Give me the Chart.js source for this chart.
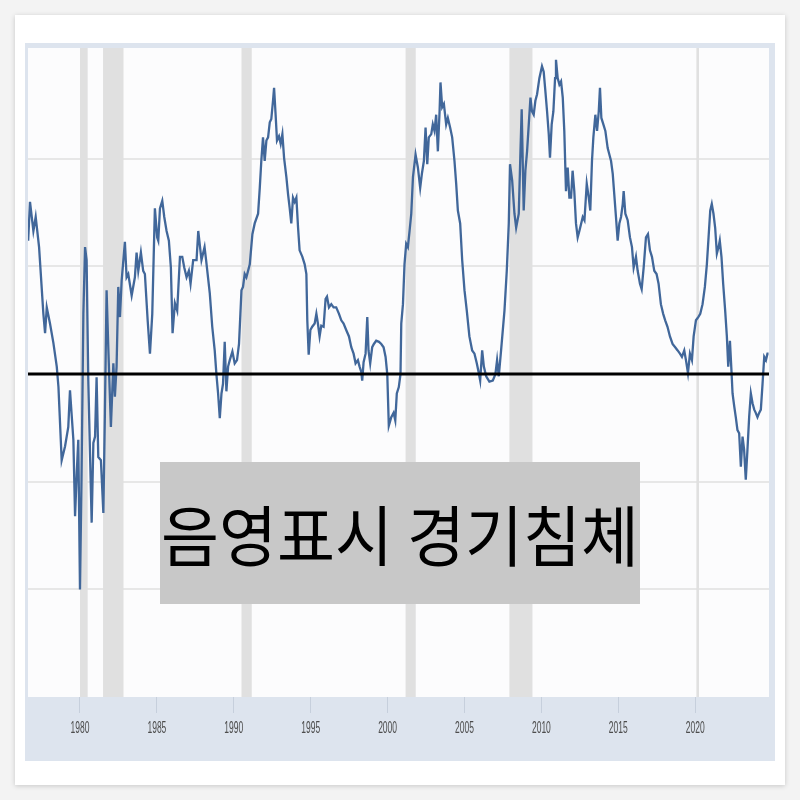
<!DOCTYPE html>
<html>
<head>
<meta charset="utf-8">
<script src="https://cdn.jsdelivr.net/npm/chart.js@4.4.1/dist/chart.umd.min.js"></script>
<style>
html, body { margin: 0; padding: 0; background: #f3f3f3; width: 800px; height: 800px; overflow: hidden; }
#card { position: absolute; left: 15px; top: 15px; width: 770px; height: 770px; background: #fff; box-shadow: 0 1px 5px rgba(0,0,0,0.18); }
#frame { position: absolute; left: 25px; top: 43px; width: 750px; height: 718px; background: #dde4ee; }
#plotbg { position: absolute; left: 28px; top: 48px; width: 741px; height: 649px; background: #fcfcfd; }
#wrap { position: absolute; left: 0; top: 0; width: 800px; height: 800px; }
#note { position: absolute; left: 160px; top: 462px; width: 480px; height: 142px; background: #c8c8c8;
        font-family: "Noto Sans CJK KR", sans-serif; font-size: 63px; line-height: 142px;
        text-align: center; color: #000; white-space: nowrap; }
#note span { display: inline-block; transform: scaleY(1.05); }
</style>
</head>
<body>
<div id="card"></div>
<div id="frame"></div>
<div id="plotbg"></div>
<div id="wrap"><canvas id="spreadChart" width="800" height="800"></canvas></div>
<div id="note"><span>음영표시 경기침체</span></div>
<script>
// 10y - 2y spread (decimal year, percent)
const dates = [
  1976.63, 1976.75, 1976.97, 1977.12, 1977.34, 1977.62, 1977.73, 1977.84, 1978.05, 1978.27,
  1978.49, 1978.60, 1978.81, 1979.03, 1979.24, 1979.35, 1979.57, 1979.68, 1979.79, 1979.89,
  1980.00, 1980.10, 1980.22, 1980.33, 1980.43, 1980.54, 1980.76, 1980.87, 1980.98, 1981.08,
  1981.19, 1981.36, 1981.52, 1981.62, 1981.73, 1981.84, 1982.01, 1982.17, 1982.27, 1982.38,
  1982.49, 1982.60, 1982.71, 1982.92, 1983.03, 1983.14, 1983.36, 1983.57, 1983.68, 1983.79,
  1983.96, 1984.11, 1984.22, 1984.40, 1984.55, 1984.70, 1984.87, 1985.02, 1985.09, 1985.20,
  1985.35, 1985.48, 1985.63, 1985.78, 1985.91, 1986.02, 1986.17, 1986.32, 1986.50, 1986.65,
  1986.78, 1986.93, 1987.08, 1987.19, 1987.36, 1987.58, 1987.69, 1987.90, 1988.10, 1988.20,
  1988.44, 1988.60, 1988.76, 1988.87, 1988.98, 1989.09, 1989.20, 1989.30, 1989.41, 1989.52,
  1989.63, 1989.74, 1989.91, 1990.06, 1990.21, 1990.34, 1990.50, 1990.60, 1990.71, 1990.82,
  1991.04, 1991.21, 1991.36, 1991.58, 1991.69, 1991.79, 1991.90, 1992.01, 1992.12, 1992.23,
  1992.34, 1992.44, 1992.55, 1992.62, 1992.72, 1992.81, 1992.94, 1993.05, 1993.16, 1993.27,
  1993.42, 1993.53, 1993.63, 1993.74, 1993.85, 1993.96, 1994.07, 1994.18, 1994.28, 1994.46,
  1994.61, 1994.72, 1994.78, 1994.87, 1994.98, 1995.10, 1995.26, 1995.37, 1995.47, 1995.58,
  1995.69, 1995.84, 1995.97, 1996.06, 1996.19, 1996.34, 1996.49, 1996.66, 1996.84, 1996.99,
  1997.14, 1997.31, 1997.49, 1997.64, 1997.79, 1997.92, 1998.07, 1998.18, 1998.29, 1998.35,
  1998.44, 1998.57, 1998.68, 1998.76, 1998.87, 1999.00, 1999.11, 1999.26, 1999.44, 1999.59,
  1999.74, 1999.87, 1999.98, 2000.08, 2000.24, 2000.39, 2000.50, 2000.60, 2000.73, 2000.84,
  2000.89, 2001.00, 2001.10, 2001.21, 2001.32, 2001.43, 2001.54, 2001.65, 2001.82, 2001.97,
  2002.12, 2002.23, 2002.36, 2002.47, 2002.58, 2002.68, 2002.84, 2002.94, 2003.05, 2003.16,
  2003.27, 2003.38, 2003.44, 2003.55, 2003.66, 2003.81, 2003.92, 2004.07, 2004.20, 2004.35,
  2004.46, 2004.57, 2004.72, 2004.85, 2005.00, 2005.15, 2005.32, 2005.50, 2005.65, 2005.80,
  2005.93, 2006.02, 2006.15, 2006.26, 2006.41, 2006.62, 2006.84, 2007.01, 2007.12, 2007.23,
  2007.38, 2007.60, 2007.75, 2007.88, 2007.96, 2008.10, 2008.25, 2008.36, 2008.53, 2008.64,
  2008.72, 2008.85, 2008.96, 2009.07, 2009.18, 2009.29, 2009.39, 2009.50, 2009.61, 2009.72,
  2009.87, 2010.04, 2010.15, 2010.26, 2010.37, 2010.48, 2010.56, 2010.67, 2010.78, 2010.89,
  2010.95, 2011.06, 2011.17, 2011.28, 2011.39, 2011.49, 2011.60, 2011.71, 2011.82, 2011.93,
  2012.03, 2012.14, 2012.25, 2012.36, 2012.47, 2012.69, 2012.80, 2012.95, 2013.08, 2013.18,
  2013.29, 2013.38, 2013.51, 2013.62, 2013.73, 2013.81, 2013.90, 2014.03, 2014.16, 2014.31,
  2014.42, 2014.53, 2014.64, 2014.74, 2014.85, 2014.96, 2015.07, 2015.18, 2015.29, 2015.35,
  2015.46, 2015.61, 2015.76, 2015.89, 2016.00, 2016.15, 2016.26, 2016.41, 2016.52, 2016.65,
  2016.80, 2016.93, 2017.06, 2017.19, 2017.34, 2017.49, 2017.62, 2017.77, 2017.92, 2018.05,
  2018.20, 2018.36, 2018.53, 2018.70, 2018.86, 2019.01, 2019.14, 2019.29, 2019.40, 2019.53,
  2019.66, 2019.79, 2019.90, 2020.05, 2020.20, 2020.33, 2020.48, 2020.63, 2020.76, 2020.87,
  2020.98, 2021.08, 2021.19, 2021.30, 2021.41, 2021.52, 2021.60, 2021.71, 2021.82, 2021.95,
  2022.06, 2022.15, 2022.26, 2022.36, 2022.43, 2022.54, 2022.64, 2022.75, 2022.86, 2022.97,
  2023.08, 2023.18, 2023.29, 2023.40, 2023.51, 2023.62, 2023.73, 2023.84, 2023.94, 2024.05,
  2024.16, 2024.27, 2024.38, 2024.49, 2024.60, 2024.70, 2024.77
];
const spread = [
  1.24, 1.60, 1.33, 1.46, 1.18, 0.56, 0.38, 0.62, 0.47, 0.29,
  0.07, -0.12, -0.80, -0.67, -0.49, -0.15, -0.61, -1.32, -0.92, -0.61,
  -2.00, -0.98, 0.56, 1.18, 1.06, -0.06, -1.38, -0.64, -0.58, -0.03,
  -0.77, -0.80, -1.29, -0.36, 0.78, 0.25, -0.49, 0.10, -0.21, 0.07,
  0.81, 0.53, 0.87, 1.23, 0.90, 0.93, 0.73, 0.90, 1.13, 0.96,
  1.13, 0.96, 0.93, 0.50, 0.19, 0.56, 1.54, 1.27, 1.24, 1.54,
  1.61, 1.46, 1.33, 1.24, 0.99, 0.38, 0.66, 0.59, 1.09, 1.09,
  0.99, 0.90, 0.96, 0.84, 1.06, 1.06, 1.33, 1.06, 1.18, 1.06,
  0.75, 0.44, 0.22, 0.00, -0.18, -0.41, -0.18, -0.09, 0.30, -0.16,
  0.07, 0.13, 0.21, 0.10, 0.13, 0.28, 0.78, 0.81, 0.93, 0.90,
  1.02, 1.30, 1.40, 1.49, 1.73, 1.98, 2.20, 1.98, 2.17, 2.20,
  2.34, 2.37, 2.54, 2.66, 2.41, 2.17, 2.21, 2.14, 2.23, 2.01,
  1.83, 1.67, 1.55, 1.40, 1.64, 1.60, 1.64, 1.36, 1.15, 1.09,
  1.02, 0.93, 0.50, 0.18, 0.41, 0.44, 0.47, 0.56, 0.47, 0.35,
  0.45, 0.44, 0.70, 0.72, 0.62, 0.65, 0.62, 0.62, 0.56, 0.50,
  0.47, 0.41, 0.35, 0.25, 0.19, 0.10, 0.13, 0.07, 0.02, -0.06,
  0.11, 0.19, 0.53, 0.22, 0.10, 0.25, 0.28, 0.31, 0.30, 0.28,
  0.25, 0.16, 0.00, -0.48, -0.40, -0.36, -0.43, -0.18, -0.12, 0.00,
  0.47, 0.65, 1.02, 1.21, 1.18, 1.33, 1.49, 1.83, 2.04, 1.92,
  1.73, 1.86, 1.98, 2.29, 1.95, 2.20, 2.23, 2.32, 2.26, 2.41,
  2.07, 2.44, 2.71, 2.48, 2.51, 2.32, 2.38, 2.29, 2.20, 1.98,
  1.77, 1.52, 1.40, 1.06, 0.78, 0.59, 0.35, 0.22, 0.19, 0.10,
  0.01, -0.06, 0.22, 0.07, -0.02, -0.07, -0.06, 0.00, 0.13, -0.02,
  0.22, 0.59, 0.96, 1.40, 1.95, 1.80, 1.49, 1.36, 1.49, 2.07,
  2.46, 1.52, 1.89, 2.07, 2.32, 2.57, 2.44, 2.41, 2.54, 2.60,
  2.75, 2.86, 2.81, 2.63, 2.44, 2.23, 2.01, 2.32, 2.44, 2.75,
  2.92, 2.75, 2.69, 2.72, 2.57, 2.26, 1.70, 1.92, 1.64, 1.64,
  1.89, 1.70, 1.40, 1.27, 1.33, 1.46, 1.43, 1.77, 1.64, 1.52,
  1.98, 2.20, 2.41, 2.26, 2.44, 2.66, 2.38, 2.32, 2.26, 2.10,
  2.04, 1.98, 1.86, 1.67, 1.46, 1.24, 1.40, 1.46, 1.58, 1.70,
  1.49, 1.43, 1.27, 1.18, 0.99, 1.09, 0.96, 0.84, 0.79, 0.99,
  1.27, 1.30, 1.15, 1.09, 0.96, 0.93, 0.84, 0.65, 0.56, 0.50,
  0.44, 0.35, 0.28, 0.25, 0.22, 0.19, 0.16, 0.22, 0.13, 0.01,
  0.19, 0.13, 0.35, 0.50, 0.53, 0.56, 0.65, 0.81, 1.02, 1.27,
  1.52, 1.58, 1.49, 1.36, 1.12, 1.18, 1.24, 1.09, 0.84, 0.59,
  0.35, 0.07, 0.31, 0.03, -0.18, -0.30, -0.40, -0.52, -0.55, -0.86,
  -0.58, -0.70, -0.98, -0.70, -0.40, -0.18, -0.27, -0.33, -0.36, -0.40,
  -0.36, -0.33, -0.09, 0.16, 0.13, 0.19, 0.19
];

// shaded recessions (decimal years)
const recessionStart = [1980.00, 1981.50, 1990.50, 2001.17, 2007.92, 2020.08];
const recessionEnd   = [1980.50, 1982.83, 1991.17, 2001.83, 2009.42, 2020.25];

const tickYears = [1980, 1985, 1990, 1995, 2000, 2005, 2010, 2015, 2020];
const gridValues = [-2, -1, 1, 2];
const xMin = 1976.62, xMax = 2024.8;
const yMin = -3, yMax = 3.03;

const recessionShade = {
    id: 'recessionShade',
    beforeDatasetsDraw(chart) {
        const { ctx, chartArea, scales } = chart;
        ctx.save();
        ctx.fillStyle = '#e0e0e0';
        recessionStart.forEach((s, i) => {
            const x0 = scales.x.getPixelForValue(s);
            const x1 = scales.x.getPixelForValue(recessionEnd[i]);
            ctx.fillRect(x0, chartArea.top, Math.max(x1 - x0, 2), chartArea.bottom - chartArea.top);
        });
        ctx.restore();
    }
};

const zeroLine = {
    id: 'zeroLine',
    afterDatasetsDraw(chart) {
        const { ctx, chartArea, scales } = chart;
        const y = scales.y.getPixelForValue(0);
        ctx.save();
        ctx.strokeStyle = '#000';
        ctx.lineWidth = 3;
        ctx.beginPath();
        ctx.moveTo(chartArea.left, y);
        ctx.lineTo(chartArea.right, y);
        ctx.stroke();
        ctx.restore();
    }
};

// year labels are very narrow in the original, so squeeze them horizontally
const narrowLabels = {
    id: 'narrowLabels',
    afterDraw(chart) {
        const { ctx, chartArea, scales } = chart;
        ctx.save();
        ctx.fillStyle = '#4d4d4d';
        ctx.font = "17px 'Liberation Sans', sans-serif";
        ctx.textAlign = 'center';
        ctx.textBaseline = 'middle';
        scales.x.ticks.forEach(t => {
            const x = scales.x.getPixelForValue(t.value);
            ctx.save();
            ctx.translate(x, chartArea.bottom + 31);
            ctx.scale(0.5, 1);
            ctx.fillText(String(t.value), 0, 0);
            ctx.restore();
        });
        ctx.restore();
    }
};

const chart = new Chart(document.getElementById('spreadChart'), {
    type: 'line',
    data: {
        datasets: [{
            data: dates.map((d, i) => ({ x: d, y: spread[i] })),
            borderColor: '#41679a',
            borderWidth: 2.3,
            pointRadius: 0,
            tension: 0
        }]
    },
    options: {
        responsive: false,
        animation: false,
        layout: { padding: { left: 28, right: 31, top: 48, bottom: 40 } },
        plugins: { legend: { display: false }, tooltip: { enabled: false } },
        scales: {
            x: {
                type: 'linear',
                min: xMin,
                max: xMax,
                afterBuildTicks: s => { s.ticks = tickYears.map(v => ({ value: v })); },
                afterFit: s => { s.height = 63; },
                border: { display: false },
                grid: { drawOnChartArea: false, drawTicks: true, tickLength: 16, color: '#c6cfdc', lineWidth: 1 },
                ticks: { display: false }
            },
            y: {
                min: yMin,
                max: yMax,
                afterBuildTicks: s => { s.ticks = gridValues.map(v => ({ value: v })); },
                afterFit: s => { s.width = 0; },
                border: { display: false },
                grid: { color: '#e7e7e7', lineWidth: 2, drawTicks: false },
                ticks: { display: false }
            }
        }
    },
    plugins: [recessionShade, zeroLine, narrowLabels]
});
</script>
</body>
</html>
